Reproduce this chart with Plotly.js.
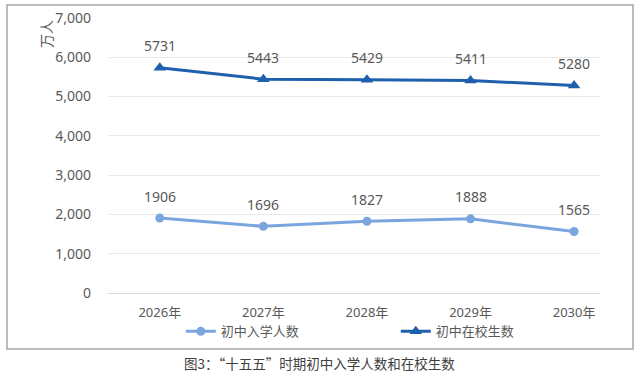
<!DOCTYPE html>
<html><head><meta charset="utf-8">
<script src="https://cdn.plot.ly/plotly-3.0.1.min.js"></script>
<style>html,body{margin:0;padding:0;background:#fff}#c{width:640px;height:375px}</style>
</head><body><div id="c"></div>
<script>
const years = ['2026年','2027年','2028年','2029年','2030年'];
const enrollment = [1906, 1696, 1827, 1888, 1565];
const inSchool = [5731, 5443, 5429, 5411, 5280];
const seriesNames = ['初中入学人数','初中在校生数'];
const yTicks = [0,1000,2000,3000,4000,5000,6000,7000];

const FONT = 'Noto Sans, Noto Sans CJK SC, sans-serif';
const lightC = '#7BA5DE';
const darkC = '#1E5FAE';

const traces = [
  {x: years, y: enrollment, name: seriesNames[0], type:'scatter', mode:'lines+markers', legend:'legend',
   line:{color:lightC, width:3}, marker:{symbol:'circle', size:9, color:lightC}},
  {x: years, y: inSchool, name: seriesNames[1], type:'scatter', mode:'lines+markers', legend:'legend2',
   line:{color:darkC, width:3}, marker:{symbol:'triangle-up', size:11, color:darkC}}
];

const annotations = [];
[enrollment, inSchool].forEach(arr => arr.forEach((v,i) => annotations.push({
  x: years[i], y: v, text: String(v), showarrow:false, yshift: 22,
  font:{family:FONT, size:14, color:'#595959'}
})));
annotations.push({xref:'paper', yref:'paper', x:-0.125, y:0.94, xanchor:'center', yanchor:'middle',
  text:'万人', textangle:-90, showarrow:false, font:{family:FONT, size:14, color:'#595959'}});
annotations.push({xref:'paper', yref:'paper', x:0.43, y:-0.212, yanchor:'top', text:'图3：“十五五”时期初中入学人数和在校生数',
  showarrow:false, font:{family:'Noto Sans CJK SC, sans-serif', size:13.5, color:'#404040'}});

const legFont = {family:FONT, size:13, color:'#595959'};
const layout = {
  width:640, height:375,
  margin:{l:108, r:40, t:18, b:82},
  paper_bgcolor:'#fff', plot_bgcolor:'#fff',
  font:{family:FONT, size:13, color:'#595959'},
  showlegend:true,
  legend:{orientation:'h', x:0.148, xanchor:'left', y:-0.085, yanchor:'top', font:legFont, bgcolor:'rgba(0,0,0,0)'},
  legend2:{orientation:'h', x:0.585, xanchor:'left', y:-0.085, yanchor:'top', font:legFont, bgcolor:'rgba(0,0,0,0)'},
  xaxis:{type:'category', range:[-0.5, 4.25], showgrid:false, zeroline:false,
    showline:true, linecolor:'#D9D9D9', linewidth:1, ticks:'', ticklabelstandoff:7,
    tickfont:{family:FONT, size:13, color:'#595959'}},
  yaxis:{range:[0,7000], tickvals:yTicks, tickformat:',d', showgrid:true, gridcolor:'#E8E8E8',
    zeroline:false, showline:false, ticks:'', ticklabelstandoff:16,
    tickfont:{family:FONT, size:14, color:'#595959'}},
  annotations: annotations,
  shapes:[{type:'rect', xref:'paper', yref:'paper', x0:-0.2053, x1:1.067, y0:-0.2036, y1:1.047,
    line:{color:'#A6A6A6', width:1.5}, fillcolor:'rgba(0,0,0,0)'}]
};
Plotly.newPlot('c', traces, layout, {displayModeBar:false, staticPlot:true});
</script></body></html>
